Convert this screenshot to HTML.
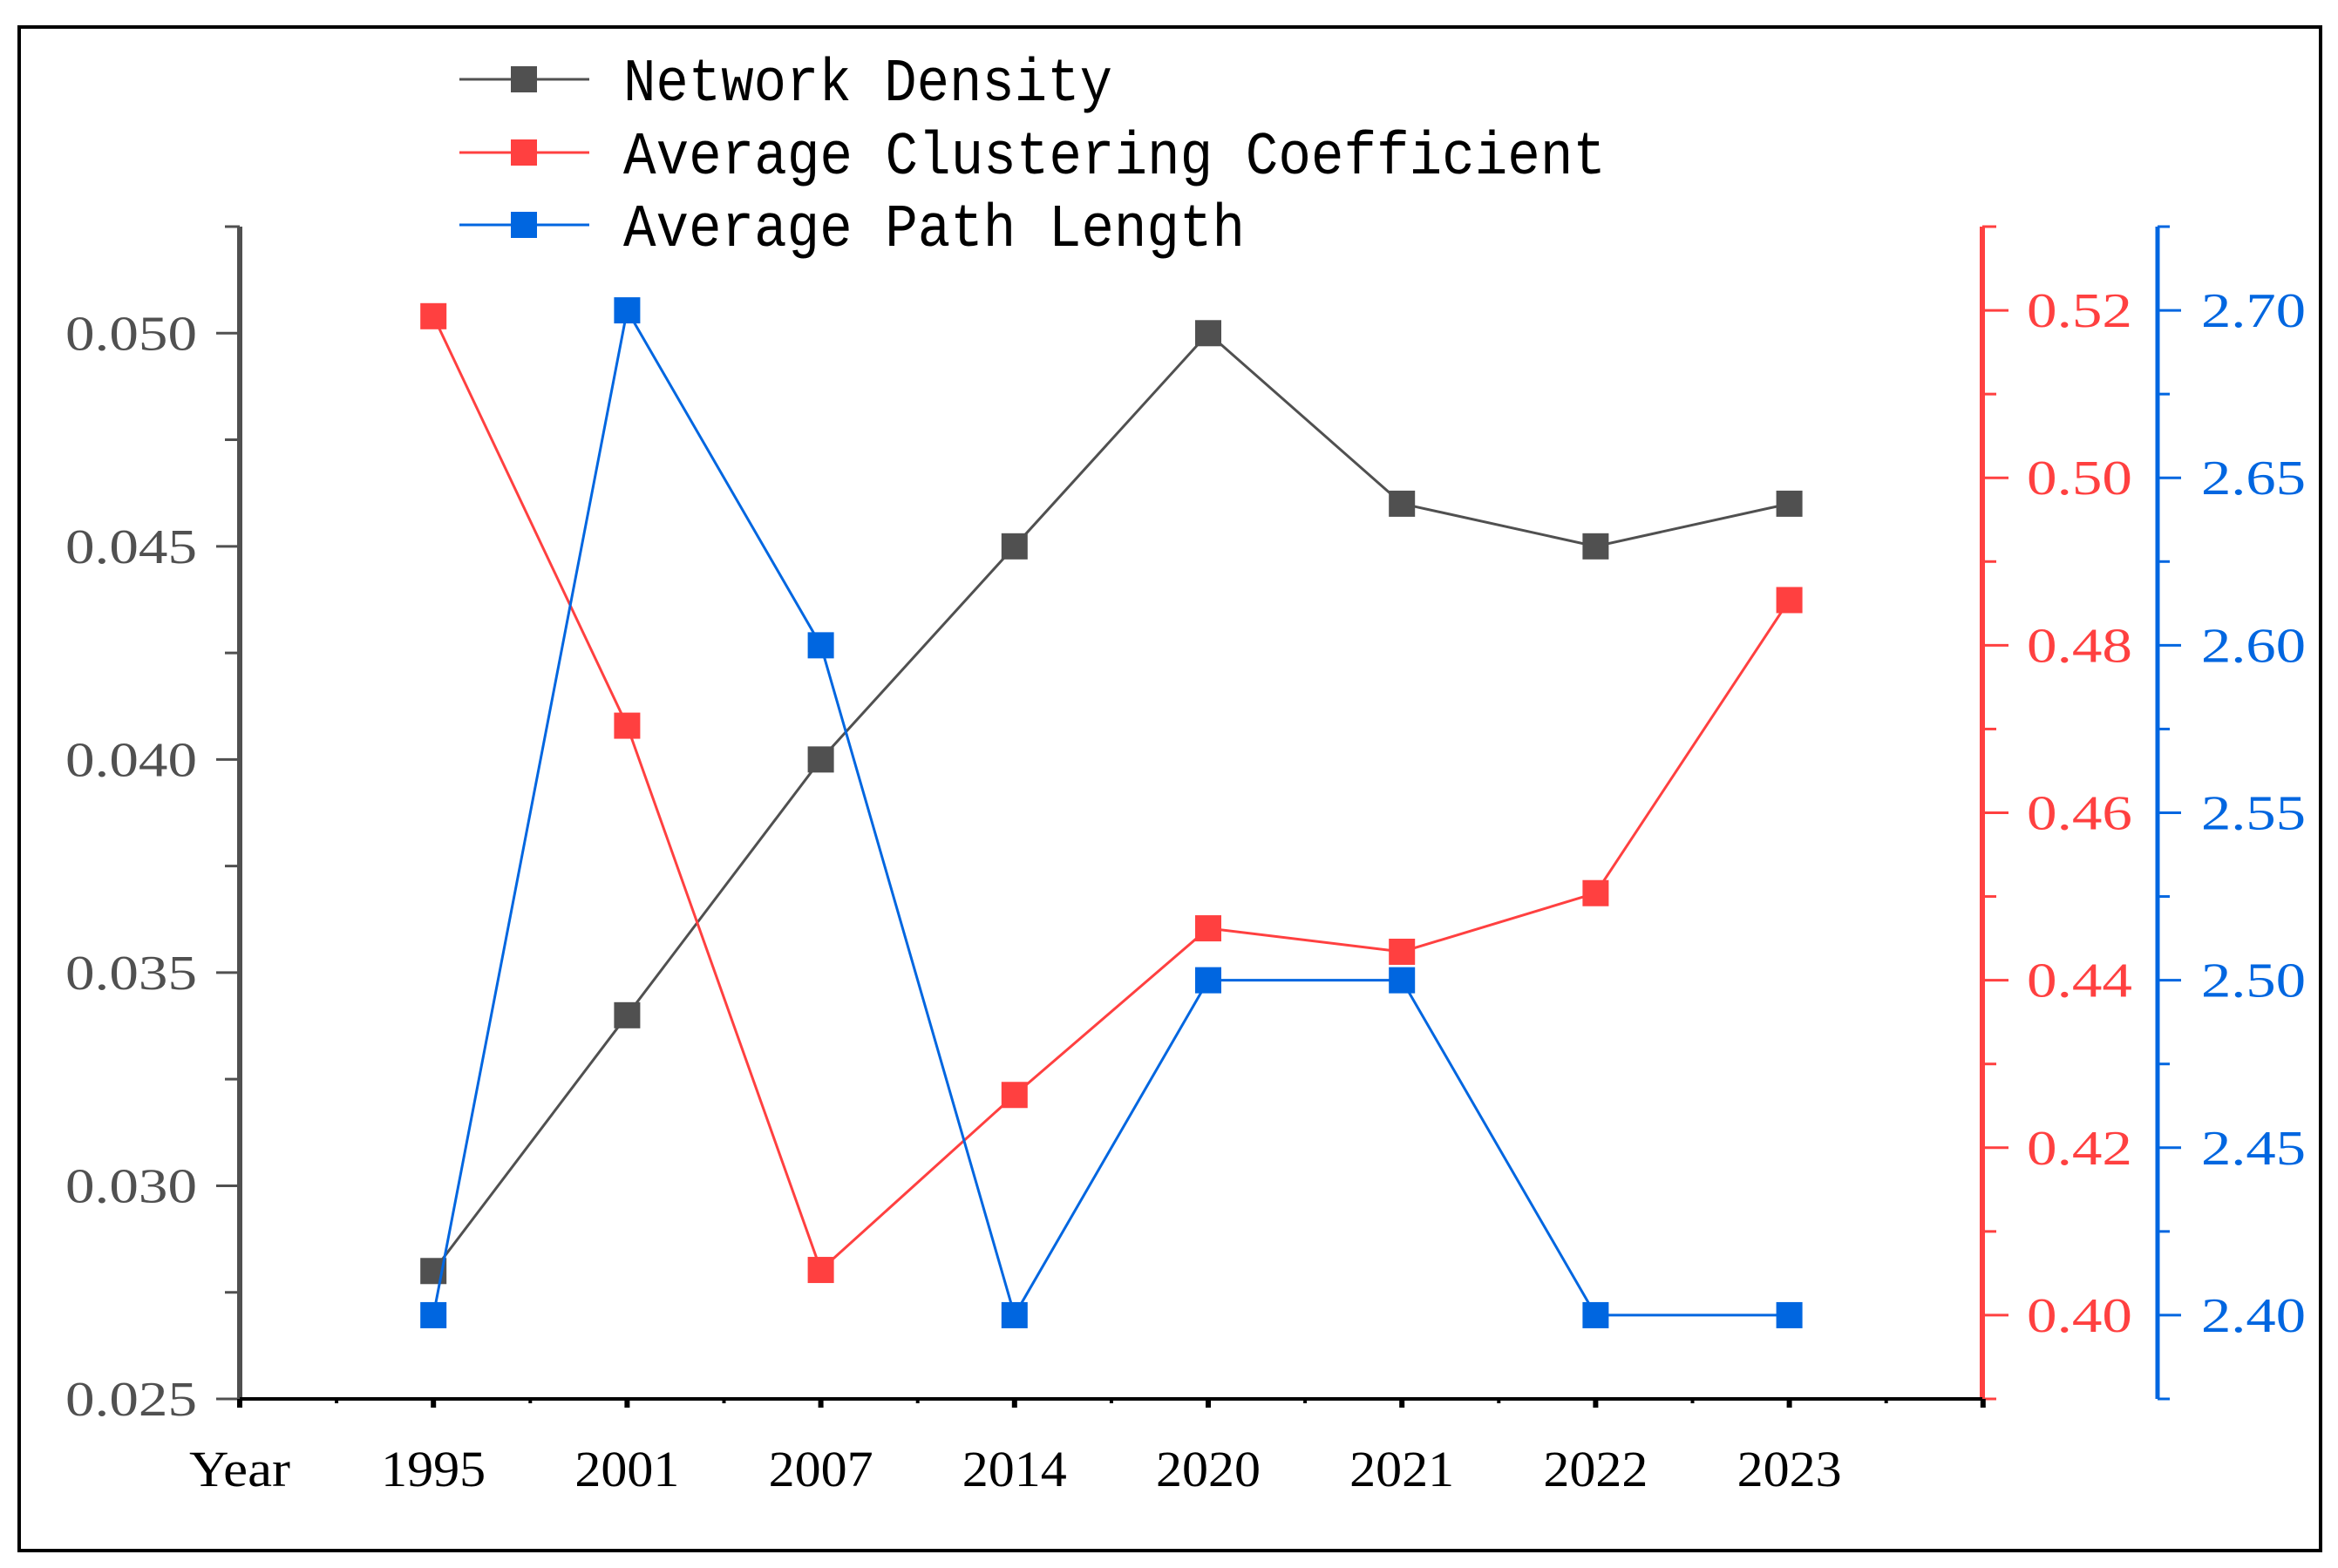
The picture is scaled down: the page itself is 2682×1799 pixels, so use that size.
<!DOCTYPE html>
<html><head><meta charset="utf-8"><style>html,body{margin:0;padding:0;background:#fff}svg{display:block}</style></head>
<body>
<svg id="chart" width="2682" height="1799" viewBox="0 0 2682 1799" xmlns="http://www.w3.org/2000/svg">
<rect x="22" y="31" width="2640" height="1748" fill="#fff" stroke="#000" stroke-width="4"/>
<g id="axes"></g>
<g id="series"></g>
<g id="legend"></g>
</svg>
<script>
const categories = ["1995","2001","2007","2014","2020","2021","2022","2023"];
const densityValues = [0.028,0.034,0.040,0.045,0.050,0.046,0.045,0.046];
const clusteringValues = [0.5193,0.4704,0.4054,0.4263,0.4462,0.4434,0.4504,0.4854];
const pathValues = [2.40,2.70,2.60,2.40,2.50,2.50,2.40,2.40];
const leftTicks = ["0.025","0.030","0.035","0.040","0.045","0.050"];
const redTicks = ["0.40","0.42","0.44","0.46","0.48","0.50","0.52"];
const blueTicks = ["2.40","2.45","2.50","2.55","2.60","2.65","2.70"];

const NS="http://www.w3.org/2000/svg";
const X0=275, STEP=222.2, YB=1605, YT=260;
const xPos=i=>X0+(i+1)*STEP;
const yL=v=>YB-(v-0.025)/(0.0525-0.025)*(YB-YT);
const yR=v=>YB-(v-0.39)/(0.53-0.39)*(YB-YT);
const yBl=v=>YB-(v-2.375)/(2.725-2.375)*(YB-YT);
function mk(tag,attrs,parent){const e=document.createElementNS(NS,tag);for(const k in attrs)e.setAttribute(k,attrs[k]);parent.appendChild(e);return e;}
const axes=document.getElementById('axes'), series=document.getElementById('series'), legend=document.getElementById('legend');
const tf='"Liberation Serif", "Noto Serif CJK SC", serif';

// left axis
let a=mk('line',{x1:X0,y1:YT,x2:X0,y2:YB,stroke:'#505050','stroke-width':6},axes);


leftTicks.forEach((t,i)=>{const v=parseFloat(t);const y=yL(v);
 mk('line',{x1:X0-27,y1:y,x2:X0,y2:y,stroke:'#505050','stroke-width':3},axes);
 const m=yL(v+0.0025); if(v+0.0025<=0.0526) mk('line',{x1:X0-17,y1:m,x2:X0,y2:m,stroke:'#505050','stroke-width':3},axes);
 const tx=mk('text',{x:226,y:y+19,'text-anchor':'end','font-family':tf,'font-size':56,fill:'#505050',textLength:151,lengthAdjust:'spacingAndGlyphs'},axes);
 tx.textContent=t;
 
 });

// red axis
const XR=2274;
a=mk('line',{x1:XR,y1:YT,x2:XR,y2:YB,stroke:'#ff4040','stroke-width':6},axes);


redTicks.forEach(t=>{const v=parseFloat(t);const y=yR(v);
 mk('line',{x1:XR,y1:y,x2:XR+30,y2:y,stroke:'#ff4040','stroke-width':3},axes);
 const m=yR(v-0.01); mk('line',{x1:XR,y1:m,x2:XR+16,y2:m,stroke:'#ff4040','stroke-width':3},axes);
 const tx=mk('text',{x:2325,y:y+19,'font-family':tf,'font-size':56,fill:'#ff4040',textLength:121,lengthAdjust:'spacingAndGlyphs'},axes);
 tx.textContent=t;
 
 });
mk('line',{x1:XR,y1:yR(0.53),x2:XR+16,y2:yR(0.53),stroke:'#ff4040','stroke-width':3},axes);

// blue axis
const XB=2475;
a=mk('line',{x1:XB,y1:YT,x2:XB,y2:YB,stroke:'#0066e0','stroke-width':5},axes);


blueTicks.forEach(t=>{const v=parseFloat(t);const y=yBl(v);
 mk('line',{x1:XB,y1:y,x2:XB+27,y2:y,stroke:'#0066e0','stroke-width':3},axes);
 const m=yBl(v-0.025); mk('line',{x1:XB,y1:m,x2:XB+14,y2:m,stroke:'#0066e0','stroke-width':3},axes);
 const tx=mk('text',{x:2525,y:y+19,'font-family':tf,'font-size':56,fill:'#0066e0',textLength:120,lengthAdjust:'spacingAndGlyphs'},axes);
 tx.textContent=t;
 
 });
mk('line',{x1:XB,y1:yBl(2.725),x2:XB+14,y2:yBl(2.725),stroke:'#0066e0','stroke-width':3},axes);

// x axis
a=mk('line',{x1:X0,y1:YB,x2:XR,y2:YB,stroke:'#000','stroke-width':4},axes);


for(let i=-1;i<=categories.length;i++){const x=xPos(i);
 mk('line',{x1:x,y1:YB,x2:x,y2:YB+10,stroke:'#000','stroke-width':6},axes);
 if(i<categories.length) mk('line',{x1:x+STEP/2,y1:YB,x2:x+STEP/2,y2:YB+5,stroke:'#000','stroke-width':4},axes);}
let yl=mk('text',{x:X0,y:1705,'text-anchor':'middle','font-family':tf,'font-size':58,fill:'#000',textLength:116,lengthAdjust:'spacingAndGlyphs'},axes);
yl.textContent='Year';


categories.forEach((c,i)=>{const t=mk('text',{x:xPos(i),y:1705,'text-anchor':'middle','font-family':tf,'font-size':58,fill:'#000',textLength:120,lengthAdjust:'spacingAndGlyphs'},axes);
 t.textContent=c;
 
 });

function drawSeries(vals,yf,color,name){
 const pts=vals.map((v,i)=>xPos(i)+','+yf(v)).join(' ');
 const pl=mk('polyline',{points:pts,fill:'none',stroke:color,'stroke-width':3},series);
 
 
 vals.forEach((v,i)=>{const r=mk('rect',{x:xPos(i)-15,y:yf(v)-15,width:30,height:30,fill:color},series);
  
  });
}
drawSeries(densityValues,yL,'#505050','network-density');
drawSeries(clusteringValues,yR,'#ff4040','clustering-coefficient');
drawSeries(pathValues,yBl,'#0066e0','path-length');

const legendItems=[["Network Density",'#505050',91,561],["Average Clustering Coefficient",'#ff4040',175,1127],["Average Path Length",'#0066e0',258,713]];
legendItems.forEach(([label,color,y,w])=>{
 const g=mk('g',{},legend);
 
 
 mk('line',{x1:527,y1:y,x2:676,y2:y,stroke:color,'stroke-width':3},g);
 mk('rect',{x:586,y:y-15,width:30,height:30,fill:color},g);
 const t=mk('text',{x:715,y:y+24,'font-family':'"Liberation Mono", monospace','font-size':70,fill:'#000',textLength:w,lengthAdjust:'spacingAndGlyphs'},g);
 t.textContent=label;
 
 
});
</script>
</body></html>
